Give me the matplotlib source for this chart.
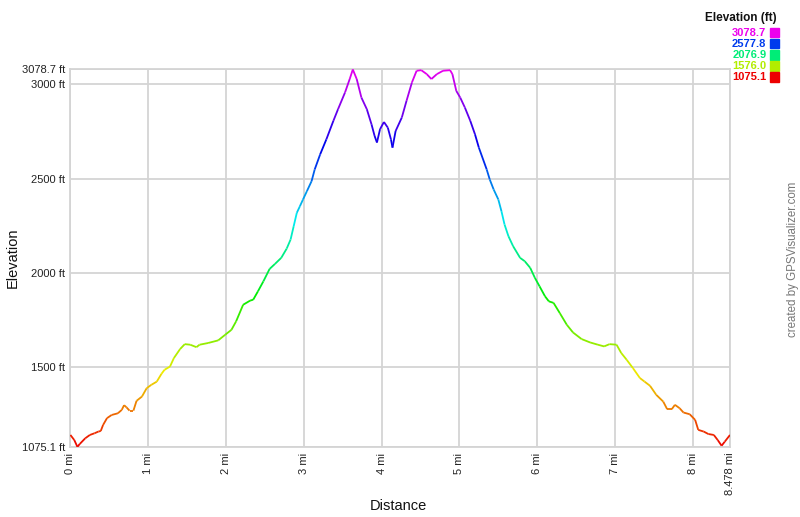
import matplotlib
matplotlib.use("Agg")
import matplotlib.pyplot as plt
import numpy as np
from matplotlib.collections import LineCollection
from matplotlib.colors import hsv_to_rgb

plt.rcParams['font.family'] = ['Liberation Sans', 'DejaVu Sans']

# distance (mi) and elevation (ft)
dist = [0.00, 0.05, 0.09, 0.12, 0.19, 0.25, 0.31, 0.36, 0.39, 0.42, 0.47, 0.53,
        0.61, 0.66, 0.69, 0.72, 0.76, 0.81, 0.85, 0.92, 0.98, 1.04, 1.11, 1.17,
        1.21, 1.28, 1.33, 1.41, 1.47, 1.54, 1.62, 1.66, 1.77, 1.90, 1.99, 2.07,
        2.13, 2.22, 2.31, 2.35, 2.41, 2.48, 2.56, 2.63, 2.71, 2.78, 2.83, 2.87,
        2.91, 2.95, 2.99, 3.04, 3.10, 3.14, 3.21, 3.29, 3.38, 3.44, 3.53, 3.59,
        3.63, 3.68, 3.74, 3.81, 3.87, 3.91, 3.94, 3.98, 4.03, 4.08, 4.12, 4.14,
        4.18, 4.26, 4.32, 4.39, 4.45, 4.51, 4.58, 4.64, 4.71, 4.79, 4.88, 4.91,
        4.96, 5.01, 5.07, 5.14, 5.20, 5.25, 5.35, 5.39, 5.44, 5.50, 5.54, 5.58,
        5.63, 5.69, 5.78, 5.84, 5.91, 5.97, 6.03, 6.10, 6.15, 6.21, 6.29, 6.38,
        6.46, 6.57, 6.68, 6.78, 6.86, 6.93, 7.02, 7.08, 7.15, 7.23, 7.32, 7.38,
        7.45, 7.53, 7.62, 7.67, 7.73, 7.77, 7.83, 7.88, 7.96, 8.03, 8.07, 8.14,
        8.20, 8.27, 8.32, 8.37, 8.41, 8.478]
elev = [1139, 1112, 1076, 1091, 1121, 1139, 1148, 1157, 1160, 1192, 1228, 1245,
        1254, 1272, 1297, 1286, 1268, 1268, 1320, 1343, 1387, 1405, 1422, 1463,
        1485, 1502, 1547, 1595, 1621, 1618, 1605, 1618, 1627, 1641, 1671, 1697,
        1742, 1830, 1852, 1857, 1901, 1954, 2020, 2047, 2079, 2128, 2176, 2247,
        2318, 2353, 2389, 2433, 2486, 2548, 2628, 2708, 2806, 2868, 2957, 3028,
        3078.7, 3028, 2930, 2868, 2788, 2726, 2691, 2762, 2800, 2770, 2708, 2664,
        2752, 2824, 2912, 3010, 3072, 3075, 3054, 3028, 3054, 3072, 3075, 3054,
        2965, 2930, 2877, 2806, 2735, 2664, 2549, 2495, 2442, 2389, 2327, 2256,
        2194, 2141, 2079, 2061, 2026, 1973, 1928, 1875, 1848, 1840, 1786, 1724,
        1683, 1648, 1630, 1618, 1609, 1621, 1618, 1574, 1538, 1494, 1441, 1422,
        1400, 1352, 1316, 1276, 1276, 1299, 1281, 1258, 1249, 1219, 1166, 1157,
        1144, 1139, 1112, 1082, 1103, 1139]

ymin, ymax = 1075.1, 3078.7
xmax = 8.478
ytick_vals = [1075.1, 1500, 2000, 2500, 3000, 3078.7]
ytick_labels = ['1075.1 ft', '1500 ft', '2000 ft', '2500 ft', '3000 ft', '3078.7 ft']
xtick_vals = [0, 1, 2, 3, 4, 5, 6, 7, 8, 8.478]
xtick_labels = ['0 mi', '1 mi', '2 mi', '3 mi', '4 mi', '5 mi', '6 mi', '7 mi', '8 mi', '8.478 mi']
legend_vals = [3078.7, 2577.8, 2076.9, 1576.0, 1075.1]


def elev_color(e, v=0.93):
    h = (e - ymin) / (ymax - ymin) * 300.0 / 360.0
    return hsv_to_rgb([min(max(h, 0), 300 / 360.0), 1.0, v])


fig = plt.figure(figsize=(8, 5.17), dpi=100)
ax = fig.add_axes([0.088, 0.1354, 0.8245, 0.7302])

x = np.array(dist)
y = np.array(elev)
pts = np.column_stack([x, y]).reshape(-1, 1, 2)
segs = np.concatenate([pts[:-1], pts[1:]], axis=1)
cols = [elev_color((a + b) / 2) for a, b in zip(y[:-1], y[1:])]
lc = LineCollection(segs, colors=cols, linewidths=1.3, zorder=3)
ax.add_collection(lc)

ax.set_xlim(0, xmax)
ax.set_ylim(ymin, ymax)
ax.set_xticks(xtick_vals)
ax.set_xticklabels(xtick_labels, rotation=90, va='top')
ax.set_yticks(ytick_vals)
ax.set_yticklabels(ytick_labels)
ax.tick_params(length=0, labelsize=8, colors='#222222', pad=4)
ax.grid(True, color='#d4d4d4', linewidth=1.3, zorder=0)
for s in ax.spines.values():
    s.set_color('#d4d4d4')
    s.set_linewidth(1.3)

fig.text(0.016, 0.501, 'Elevation', rotation=90, ha='center', va='center',
         fontsize=10.5, color='#111111')
fig.text(0.4975, 0.021, 'Distance', ha='center', va='center',
         fontsize=10.5, color='#111111')

# legend
fig.text(0.971, 0.965, 'Elevation (ft)', ha='right', va='center', fontsize=8.5,
         fontweight='bold', color='#111111')
for i, v in enumerate(legend_vals):
    yy = 0.936 - i * 0.0213
    fig.text(0.958, yy, f'{v:.1f}', ha='right', va='center', fontsize=8,
             fontweight='bold', color=elev_color(v))
    fig.patches.append(plt.Rectangle((0.962, yy - 0.0085), 0.0113, 0.0175,
                                     transform=fig.transFigure,
                                     color=elev_color(v, 0.93)))

fig.text(0.991, 0.499, 'created by GPSVisualizer.com', rotation=90, ha='center',
         va='center', fontsize=8.3, color='#777777')

fig.savefig('out.png', dpi=100)
